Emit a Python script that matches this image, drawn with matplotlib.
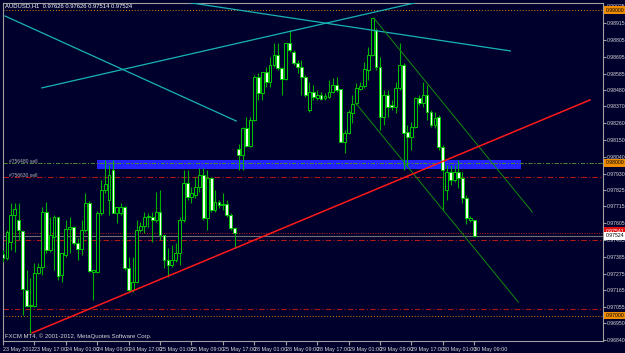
import numpy as np
import matplotlib
matplotlib.use("Agg")
from matplotlib import pyplot as plt
from matplotlib.patches import Rectangle

plt.rcParams["font.family"] = ["Liberation Sans", "DejaVu Sans"]

# AUDUSD H1, 23 May 09:00 .. 30 May 09:00 (bar index 0..120)
opens = [0.97403, 0.97377, 0.97482, 0.97659, 0.97626, 0.97554, 0.97168, 0.97063, 0.97063, 0.97279,
         0.97318, 0.97678, 0.97430, 0.97515, 0.97646, 0.97266, 0.97397, 0.97567, 0.97580, 0.97475,
         0.97436, 0.97561, 0.97737, 0.97285, 0.97285, 0.97672, 0.97822, 0.97757, 0.97954, 0.97672,
         0.97672, 0.97711, 0.97312, 0.97168, 0.97220, 0.97561, 0.97587, 0.97646, 0.97646, 0.97626,
         0.97678, 0.97528, 0.97364, 0.97331, 0.97364, 0.97410, 0.97626, 0.97868, 0.97777, 0.97790,
         0.97842, 0.97921, 0.97639, 0.97901, 0.97692, 0.97744, 0.97724, 0.97731, 0.97659, 0.97574,
         0.98091, 0.98052, 0.98229, 0.98111, 0.98281, 0.98563, 0.98458, 0.98595, 0.98530, 0.98641,
         0.98707, 0.98622, 0.98550, 0.98785, 0.98726, 0.98654, 0.98628, 0.98563, 0.98347, 0.98464,
         0.98425, 0.98445, 0.98425, 0.98432, 0.98464, 0.98510, 0.98484, 0.98137, 0.98196, 0.98327,
         0.98392, 0.98484, 0.98504, 0.98609, 0.98707, 0.98871, 0.98628, 0.98301, 0.98445, 0.98379,
         0.98366, 0.98491, 0.98641, 0.98202, 0.98170, 0.98235, 0.98425, 0.98392, 0.98445, 0.98333,
         0.98248, 0.98301, 0.98104, 0.97822, 0.97940, 0.97888, 0.97940, 0.97901, 0.97770, 0.97626,
         0.97626]
highs = [0.97430, 0.97561, 0.97737, 0.97737, 0.97737, 0.97554, 0.97299, 0.97246, 0.97344, 0.97344,
         0.97711, 0.97744, 0.97646, 0.97659, 0.97646, 0.97410, 0.97626, 0.97646, 0.97587, 0.97508,
         0.97626, 0.97803, 0.97750, 0.97299, 0.97685, 0.97888, 0.98019, 0.97986, 0.98019, 0.97711,
         0.97737, 0.97718, 0.97384, 0.97384, 0.97626, 0.97613, 0.97678, 0.97672, 0.97678, 0.97809,
         0.97822, 0.97528, 0.97443, 0.97462, 0.97475, 0.97646, 0.97954, 0.97954, 0.97842, 0.97908,
         0.97967, 0.97967, 0.97954, 0.97908, 0.97822, 0.97757, 0.97803, 0.97757, 0.97672, 0.97580,
         0.98124, 0.98235, 0.98301, 0.98301, 0.98576, 0.98589, 0.98595, 0.98628, 0.98694, 0.98785,
         0.98785, 0.98628, 0.98785, 0.98871, 0.98740, 0.98674, 0.98674, 0.98576, 0.98530, 0.98510,
         0.98478, 0.98464, 0.98458, 0.98543, 0.98556, 0.98563, 0.98484, 0.98216, 0.98347, 0.98445,
         0.98523, 0.98530, 0.98661, 0.98759, 0.98949, 0.98884, 0.98694, 0.98478, 0.98478, 0.98412,
         0.98530, 0.98785, 0.98654, 0.98248, 0.98268, 0.98432, 0.98445, 0.98530, 0.98510, 0.98347,
         0.98333, 0.98314, 0.98117, 0.97986, 0.97986, 0.97986, 0.98019, 0.97940, 0.97790, 0.97652,
         0.97626]
lows = [0.97351, 0.97364, 0.97430, 0.97416, 0.97495, 0.97004, 0.97056, 0.96886, 0.97056, 0.97272,
        0.97266, 0.97410, 0.97416, 0.97299, 0.97233, 0.97220, 0.97384, 0.97410, 0.97462, 0.97364,
        0.97397, 0.97547, 0.97285, 0.97102, 0.97279, 0.97659, 0.97803, 0.97659, 0.97672, 0.97606,
        0.97659, 0.97299, 0.97154, 0.97154, 0.97213, 0.97547, 0.97541, 0.97580, 0.97482, 0.97613,
        0.97495, 0.97312, 0.97253, 0.97318, 0.97351, 0.97331, 0.97613, 0.97757, 0.97737, 0.97770,
        0.97809, 0.97626, 0.97561, 0.97678, 0.97678, 0.97705, 0.97692, 0.97646, 0.97561, 0.97443,
        0.97954, 0.97954, 0.98104, 0.98104, 0.98274, 0.98412, 0.98412, 0.98497, 0.98497, 0.98628,
        0.98609, 0.98445, 0.98543, 0.98726, 0.98641, 0.98589, 0.98445, 0.98432, 0.98333, 0.98412,
        0.98412, 0.98412, 0.98412, 0.98425, 0.98458, 0.98464, 0.98137, 0.98065, 0.98189, 0.98261,
        0.98379, 0.98478, 0.98491, 0.98543, 0.98700, 0.98609, 0.98216, 0.98248, 0.98301, 0.98347,
        0.98327, 0.98478, 0.97954, 0.97973, 0.98085, 0.98229, 0.98379, 0.98366, 0.98281, 0.98235,
        0.98229, 0.98085, 0.97692, 0.97757, 0.97855, 0.97875, 0.97836, 0.97737, 0.97600, 0.97613,
        0.97514]
closes = [0.97377, 0.97547, 0.97659, 0.97698, 0.97561, 0.97174, 0.97063, 0.97069, 0.97279, 0.97318,
          0.97678, 0.97430, 0.97528, 0.97646, 0.97259, 0.97410, 0.97567, 0.97580, 0.97475, 0.97436,
          0.97561, 0.97737, 0.97292, 0.97299, 0.97672, 0.97822, 0.97862, 0.97921, 0.97672, 0.97711,
          0.97711, 0.97312, 0.97168, 0.97220, 0.97561, 0.97587, 0.97646, 0.97652, 0.97626, 0.97678,
          0.97528, 0.97364, 0.97331, 0.97364, 0.97410, 0.97626, 0.97868, 0.97777, 0.97803, 0.97842,
          0.97921, 0.97639, 0.97901, 0.97692, 0.97744, 0.97724, 0.97731, 0.97659, 0.97574, 0.97541,
          0.98052, 0.98229, 0.98111, 0.98281, 0.98563, 0.98458, 0.98595, 0.98530, 0.98641, 0.98707,
          0.98622, 0.98550, 0.98785, 0.98740, 0.98654, 0.98628, 0.98563, 0.98445, 0.98464, 0.98432,
          0.98445, 0.98419, 0.98438, 0.98464, 0.98510, 0.98478, 0.98137, 0.98196, 0.98333, 0.98386,
          0.98491, 0.98504, 0.98615, 0.98707, 0.98949, 0.98628, 0.98301, 0.98445, 0.98366, 0.98366,
          0.98491, 0.98641, 0.98196, 0.98170, 0.98235, 0.98425, 0.98392, 0.98445, 0.98333, 0.98248,
          0.98294, 0.98104, 0.97954, 0.97940, 0.97888, 0.97940, 0.97901, 0.97770, 0.97639, 0.97639,
          0.97524]

time_pos = [0, 8, 16, 24, 32, 40, 48, 56, 64, 72, 80, 88, 96, 104, 112, 120]
time_labels = ["23 May 2012", "23 May 17:00", "24 May 01:00", "24 May 09:00", "24 May 17:00",
               "25 May 01:00", "25 May 09:00", "25 May 17:00", "28 May 01:00", "28 May 09:00",
               "28 May 17:00", "29 May 01:00", "29 May 09:00", "29 May 17:00", "30 May 01:00",
               "30 May 09:00"]
price_ticks = [0.99025, 0.98915, 0.98805, 0.98695, 0.98585, 0.98480, 0.98370, 0.98260, 0.98150,
               0.98040, 0.97930, 0.97825, 0.97715, 0.97605, 0.97495, 0.97385, 0.97275, 0.97165,
               0.97055, 0.96950, 0.96840]

# drawn objects: (bar index, price) end points
cyan_lines = [[(0.5, 0.98962), (59.4, 0.98274)],
              [(9.9, 0.98491), (104.8, 0.99047)],
              [(44.7, 0.99060), (129.2, 0.98733)]]
channel_lines = [[(94.4, 0.98949), (134.8, 0.97678)],
                 [(89.8, 0.98392), (131.2, 0.97089)]]
red_trend = [(7.4, 0.96886), (149.5, 0.98412)]
zone = (23.9, 132.0, 0.97960, 0.98016)
round_levels = [0.99000, 0.98000, 0.97000]
order_levels = [0.98000, 0.97908]
red_levels = [0.97908, 0.97495, 0.97043]
ask_level = 0.97541
bid_level = 0.97524

bg = "#00002d"
fig = plt.figure(figsize=(6.25, 3.53), dpi=100, facecolor=bg)
ax = fig.add_axes([3 / 625, 1 - 341 / 353, 600 / 625, 338 / 353])
ax.set_facecolor(bg)
ax.set_xlim(0.51, 152.8)
ax.set_ylim(0.96833, 0.99047)

# zone
ax.add_patch(Rectangle((zone[0], zone[2]), zone[1] - zone[0], zone[3] - zone[2],
                       facecolor="#2222ff", edgecolor="none", zorder=1))

# horizontal levels
for lv in round_levels:
    ax.axhline(lv, color="#e08000", lw=0.7, ls=(0, (1, 2)), zorder=2)
ax.axhline(order_levels[0], color="#3a8a3a", lw=0.7, ls=(0, (4, 2, 1, 2)), zorder=2)
for lv in red_levels:
    ax.axhline(lv, color="#b01818", lw=0.8, ls=(0, (5, 2, 1, 2)), zorder=2)
ax.axhline(ask_level, color="#c02020", lw=0.7, ls=(0, (1, 1.5)), zorder=2)
ax.axhline(bid_level, color="#707070", lw=0.8, zorder=2)

# candles
x = np.arange(len(opens))
o = np.array(opens)
c = np.array(closes)
ax.vlines(x, lows, highs, color="#00b000", lw=0.8, zorder=3)
up = c >= o
bottom = np.minimum(o, c)
height = np.maximum(np.abs(c - o), 0.000012)
ax.bar(x[up], height[up], bottom=bottom[up], width=0.72, facecolor=bg,
       edgecolor="#00c800", linewidth=0.7, zorder=4)
ax.bar(x[~up], height[~up], bottom=bottom[~up], width=0.72, facecolor="#f2fff2",
       edgecolor="#00c800", linewidth=0.7, zorder=4)

# trend lines
for ln in cyan_lines:
    ax.plot([ln[0][0], ln[1][0]], [ln[0][1], ln[1][1]], color="#18b4b4", lw=0.9, zorder=5)
for ln in channel_lines:
    ax.plot([ln[0][0], ln[1][0]], [ln[0][1], ln[1][1]], color="#108c10", lw=0.7, zorder=5)
ax.plot([red_trend[0][0], red_trend[1][0]], [red_trend[0][1], red_trend[1][1]],
        color="#ff1a1a", lw=1.1, zorder=5)

# axes
for side in ["left", "right", "top", "bottom"]:
    ax.spines[side].set_color("#a0a0a0")
    ax.spines[side].set_linewidth(0.8)
ax.yaxis.tick_right()
ax.set_yticks(price_ticks)
ax.set_yticklabels(["%.5f" % v for v in price_ticks])
ax.tick_params(axis="y", colors="#a0a0a0", labelcolor="#d8d8d8", labelsize=3.7, length=2, pad=1)
ax.set_xticks(time_pos)
ax.set_xticklabels(time_labels, ha="left")
ax.tick_params(axis="x", colors="#a0a0a0", labelcolor="#d8d8d8", labelsize=3.9, length=3, pad=1)

# price boxes on the right
tr = ax.get_yaxis_transform()
for lv in round_levels:
    ax.text(1.004, lv, "%.5f" % lv, transform=tr, fontsize=3.7, color="black", va="center",
            ha="left", bbox=dict(facecolor="#f08c00", edgecolor="none", pad=1.0), zorder=10,
            clip_on=False)
ax.text(1.004, ask_level + 0.00012, "%.5f" % ask_level, transform=tr, fontsize=3.7, color="white",
        va="center", ha="left", bbox=dict(facecolor="#e01010", edgecolor="none", pad=1.0),
        zorder=10, clip_on=False)
ax.text(1.004, bid_level - 0.00003, "%.5f" % bid_level, transform=tr, fontsize=3.7, color="black",
        va="center", ha="left", bbox=dict(facecolor="white", edgecolor="none", pad=1.0),
        zorder=11, clip_on=False)

# texts
fig.text(5 / 625, 1 - 5.5 / 353, "AUDUSD,H1  0.97626 0.97626 0.97514 0.97524", fontsize=4.2,
         color="white", va="center", ha="left")
fig.text(5 / 625, 1 - 336 / 353, "FXCM MT4, \u00a9 2001-2012, MetaQuotes Software Corp.",
         fontsize=4.3, color="#d8d8d8", va="center", ha="left")
ax.text(1.5, order_levels[0] + 0.00008, "#756480 sell", fontsize=3.6, color="#b0b0b0",
        va="center", zorder=6)
ax.text(1.5, order_levels[1] + 0.00008, "#756630 sell", fontsize=3.6, color="#b0b0b0",
        va="center", zorder=6)

fig.savefig("out.png", dpi=100, facecolor=bg)
